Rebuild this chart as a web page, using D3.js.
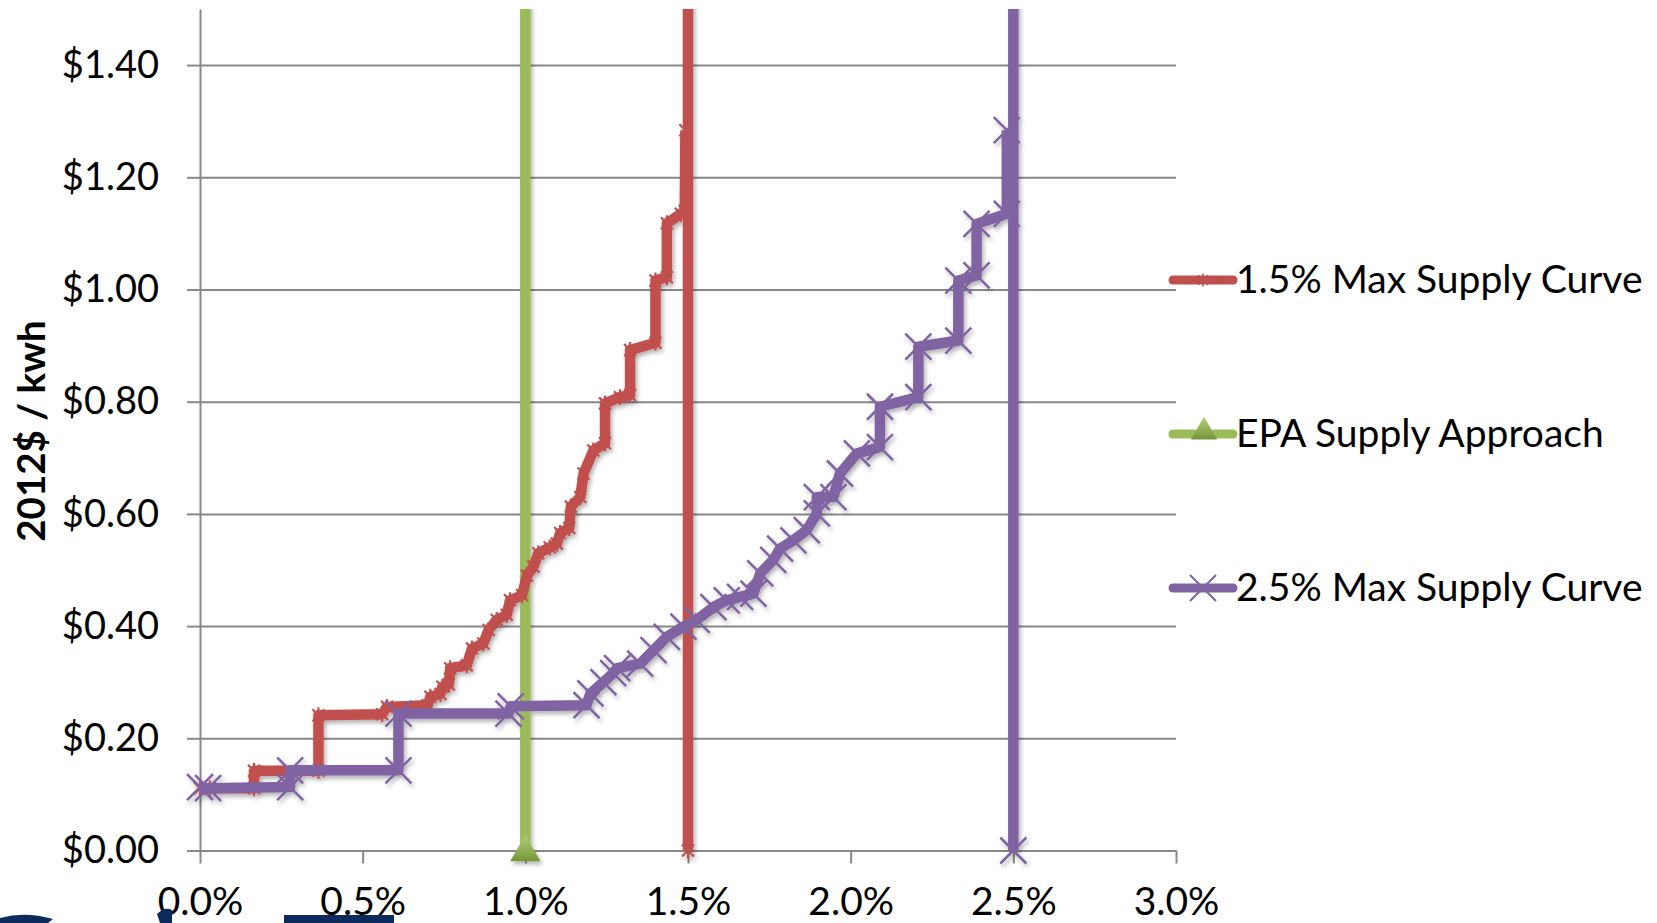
<!DOCTYPE html>
<html>
<head>
<meta charset="utf-8">
<script src="https://cdn.jsdelivr.net/npm/d3@7"></script>
<style>
  html, body { margin: 0; padding: 0; background: #fff; }
  svg { display: block; font-family: Lato, "Open Sans", sans-serif; }
  .tick text { fill: #000; }
</style>
</head>
<body>
<svg id="chart" width="1657" height="923"></svg>
<script>
// ── Data (x = % of sales, y = 2012$ / kwh) ───────────────────────────
const maxCurve15 = [
  [0.000, 0.111], [0.030, 0.111], [0.166, 0.111], [0.166, 0.142], [0.364, 0.142],
  [0.364, 0.241], [0.560, 0.243], [0.575, 0.256], [0.700, 0.259], [0.708, 0.274],
  [0.739, 0.279], [0.745, 0.292], [0.765, 0.296], [0.769, 0.325], [0.820, 0.330],
  [0.836, 0.360], [0.871, 0.369], [0.887, 0.393], [0.912, 0.411], [0.943, 0.420],
  [0.953, 0.446], [0.990, 0.455], [1.005, 0.490], [1.025, 0.506], [1.040, 0.530],
  [1.075, 0.540], [1.097, 0.547], [1.107, 0.566], [1.135, 0.575], [1.140, 0.613],
  [1.169, 0.630], [1.179, 0.672], [1.209, 0.713], [1.245, 0.726], [1.245, 0.797],
  [1.291, 0.808], [1.322, 0.812], [1.322, 0.892], [1.400, 0.905], [1.400, 1.016],
  [1.435, 1.022], [1.435, 1.118], [1.478, 1.135], [1.490, 1.140], [1.492, 1.284]
];
const maxLimit15 = [[1.5, 0], [1.5, 1.6]];

const epaApproach = [[1.0, 0], [1.0, 1.6]];

const maxCurve25 = [
  [0.000, 0.113], [0.025, 0.111], [0.277, 0.113], [0.277, 0.143], [0.610, 0.143],
  [0.610, 0.244], [0.948, 0.244], [0.955, 0.257], [1.188, 0.259], [1.200, 0.280],
  [1.240, 0.300], [1.270, 0.316], [1.282, 0.325], [1.353, 0.333], [1.394, 0.357],
  [1.435, 0.381], [1.486, 0.399], [1.527, 0.411], [1.578, 0.434], [1.619, 0.446],
  [1.660, 0.452], [1.701, 0.458], [1.722, 0.494], [1.762, 0.518], [1.783, 0.538],
  [1.824, 0.553], [1.865, 0.571], [1.896, 0.601], [1.896, 0.630], [1.947, 0.630],
  [1.967, 0.672], [2.019, 0.708], [2.090, 0.719], [2.090, 0.791], [2.208, 0.808],
  [2.208, 0.898], [2.331, 0.909], [2.331, 1.016], [2.387, 1.025], [2.387, 1.117],
  [2.480, 1.135], [2.480, 1.284]
];
const maxLimit25 = [[2.5, 0], [2.5, 1.6]];

const xTicks = [0, 0.5, 1.0, 1.5, 2.0, 2.5, 3.0];
const yTicks = [0, 0.2, 0.4, 0.6, 0.8, 1.0, 1.2, 1.4];
const legendLabels = ['1.5% Max Supply Curve', 'EPA Supply Approach', '2.5% Max Supply Curve'];

// ── Layout ───────────────────────────────────────────────────────────
const COLORS = { red: '#C0504D', green: '#9BBB59', purple: '#8064A2' };
const GRID = '#888888';
const FONT_SIZE = 39;

const svg = d3.select('#chart');
const x = d3.scaleLinear().domain([0, 3]).range([200, 1176]);
const y = d3.scaleLinear().domain([0, 1.5]).range([850.5, 9]);

const defs = svg.append('defs');
defs.append('filter')
    .attr('id', 'shadow')
    .attr('x', '-20%').attr('y', '-20%').attr('width', '140%').attr('height', '140%')
  .append('feDropShadow')
    .attr('dx', 2).attr('dy', 3)
    .attr('stdDeviation', 2)
    .attr('flood-color', '#000')
    .attr('flood-opacity', 0.3);
defs.append('clipPath').attr('id', 'plot-clip')
  .append('rect')
    .attr('x', 0).attr('y', y(1.5))
    .attr('width', 1657).attr('height', 923 - y(1.5));
const triGrad = defs.append('linearGradient')
    .attr('id', 'tri-grad').attr('x1', 0).attr('y1', 0).attr('x2', 0).attr('y2', 1);
triGrad.append('stop').attr('offset', '0%').attr('stop-color', '#b3cf78');
triGrad.append('stop').attr('offset', '100%').attr('stop-color', '#76963a');

// ── Grid + axes ─────────────────────────────────────────────────────
svg.append('g')
    .attr('class', 'grid')
    .attr('transform', `translate(${x(0)},0)`)
    .call(d3.axisLeft(y).tickValues(yTicks.slice(1)).tickSize(-(x(3) - x(0))).tickFormat(''))
    .call(g => g.select('.domain').remove())
    .call(g => g.selectAll('line').attr('stroke', GRID).attr('stroke-width', 2));

svg.append('g')
    .attr('class', 'y-axis')
    .attr('transform', `translate(${x(0)},0)`)
    .call(d3.axisLeft(y).tickValues(yTicks).tickSize(13).tickSizeOuter(0).tickPadding(28)
      .tickFormat(d => '$' + d.toFixed(2)))
    .call(g => g.select('.domain').attr('stroke', GRID).attr('stroke-width', 2))
    .call(g => g.selectAll('line').attr('stroke', GRID).attr('stroke-width', 2))
    .call(g => g.selectAll('text').attr('font-size', 38).attr('font-family', 'Lato'));

svg.append('g')
    .attr('class', 'x-axis')
    .attr('transform', `translate(0,${y(0)})`)
    .call(d3.axisBottom(x).tickValues(xTicks).tickSize(13).tickSizeOuter(0).tickPadding(24)
      .tickFormat(d => d.toFixed(1) + '%'))
    .call(g => g.select('.domain').attr('stroke', GRID).attr('stroke-width', 2))
    .call(g => g.selectAll('line').attr('stroke', GRID).attr('stroke-width', 2))
    .call(g => g.selectAll('text').attr('font-size', FONT_SIZE).attr('font-family', 'Lato'));

svg.append('text')
    .attr('transform', `translate(45,${431}) rotate(-90)`)
    .attr('text-anchor', 'middle')
    .attr('font-size', 38.5)
    .attr('font-weight', 'bold')
    .attr('font-family', 'Lato')
    .text('2012$ / kwh');

// ── Markers ──────────────────────────────────────────────────────────
const STAR = 'M-6,-6L6,6M-6,6L6,-6M0,-8L0,8';
const CROSS = 'M-13,-13L13,13M-13,13L13,-13';
const triangle = d3.symbol(d3.symbolTriangle, 400)();

const line = d3.line().x(d => x(d[0])).y(d => y(d[1]));
const plot = svg.append('g').attr('clip-path', 'url(#plot-clip)').attr('filter', 'url(#shadow)');

function drawSeries(data, color, markerPath, markerWidth, markerData) {
  plot.append('path')
    .datum(data)
    .attr('d', line)
    .attr('fill', 'none')
    .attr('stroke', color)
    .attr('stroke-width', 10.5)
    .attr('stroke-linejoin', 'round');
  if (!markerPath) return;
  plot.append('g')
    .selectAll('path')
    .data(markerData || data)
    .join('path')
      .attr('transform', d => `translate(${x(d[0])},${y(d[1])})`)
      .attr('d', markerPath)
      .attr('fill', 'none')
      .attr('stroke', color)
      .attr('stroke-width', markerWidth);
}

drawSeries(epaApproach, COLORS.green);
plot.append('path')
    .attr('transform', `translate(${x(epaApproach[0][0])},${y(epaApproach[0][1]) + 2})`)
    .attr('d', triangle)
    .attr('fill', 'url(#tri-grad)');

drawSeries(maxCurve15, COLORS.red, STAR, 2.2);
drawSeries(maxLimit15, COLORS.red, STAR, 2.2, maxLimit15.slice(0, 1));
drawSeries(maxCurve25, COLORS.purple, CROSS, 2.5);
drawSeries(maxLimit25, COLORS.purple, CROSS, 2.5, maxLimit25.slice(0, 1));

// ── Legend ───────────────────────────────────────────────────────────
const legendColors = [COLORS.red, COLORS.green, COLORS.purple];
const legendY = d3.scalePoint().domain(legendLabels).range([280, 588]);
const legend = svg.append('g').attr('class', 'legend');
const items = legend.selectAll('g')
  .data(legendLabels)
  .join('g')
    .attr('transform', d => `translate(1173,${legendY(d)})`);

items.append('line')
    .attr('x1', 0).attr('x2', 60)
    .attr('stroke', (d, i) => legendColors[i])
    .attr('stroke-width', 9)
    .attr('stroke-linecap', 'round');
items.filter((d, i) => i === 0).append('path')
    .attr('transform', 'translate(30,0) scale(0.8)')
    .attr('d', STAR).attr('stroke', COLORS.red).attr('stroke-width', 2);
items.filter((d, i) => i === 1).append('path')
    .attr('transform', 'translate(31,-2)')
    .attr('d', d3.symbol(d3.symbolTriangle, 300)())
    .attr('fill', 'url(#tri-grad)');
items.filter((d, i) => i === 2).append('path')
    .attr('transform', 'translate(30,0)')
    .attr('d', CROSS).attr('stroke', COLORS.purple).attr('stroke-width', 2);
items.append('text')
    .attr('x', 63)
    .attr('y', 13)
    .attr('font-size', FONT_SIZE)
    .attr('font-family', 'Lato')
    .attr('fill', '#000')
    .text(d => d);

// ── Logo fragments cut off at the bottom edge ───────────────────────
const logo = svg.append('g').attr('fill', '#0d2a5c');
logo.append('path').attr('d', 'M0,923 L0,918 Q25,911 53,919 L48,923 Z');
logo.append('path').attr('d', 'M157,914 Q165,906 172,910 L172,923 L160,923 Z');
logo.append('rect').attr('x', 284).attr('y', 915).attr('width', 110).attr('height', 8);
</script>
</body>
</html>
